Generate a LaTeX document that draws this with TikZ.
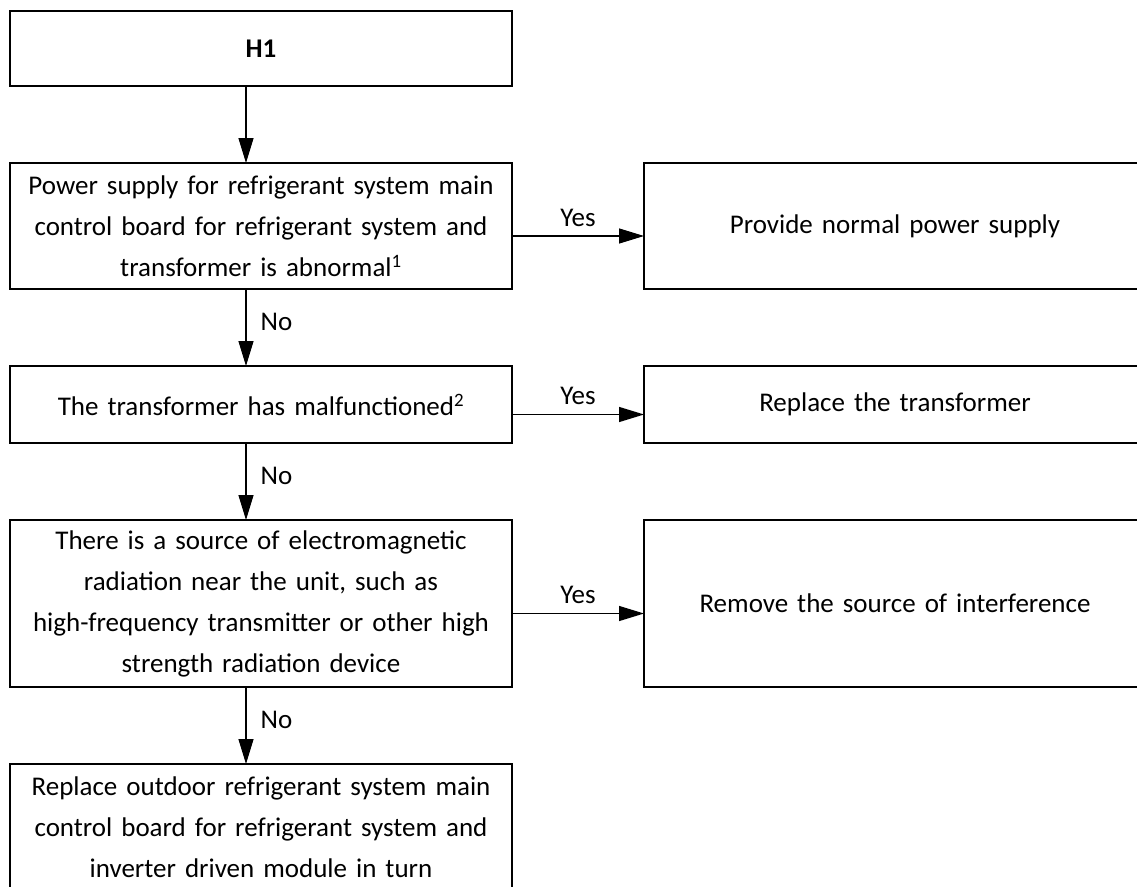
\documentclass[tikz,border=0pt]{standalone}
\usepackage{fontspec}
\setmainfont{Carlito}
\usetikzlibrary{arrows.meta,positioning}
\tikzset{
  box/.style={
    draw=black,
    line width=1.3pt,
    align=center,
    font=\fontsize{27pt}{41pt}\selectfont,
    text width=496pt,
    minimum width=502pt,
    inner sep=0pt,
    outer sep=0pt
  },
  arrow/.style={
    -{Triangle[length=25pt,width=15pt]},
    line width=1.3pt,
    draw=black
  },
  yes/.style={
    midway,
    above=9pt,
    inner sep=0pt,
    font=\fontsize{27pt}{32pt}\selectfont
  },
  no/.style={
    pos=0.43,
    right=14pt,
    inner sep=0pt,
    font=\fontsize{27pt}{32pt}\selectfont
  }
}
\begin{document}
\begin{tikzpicture}[node distance=77pt and 132pt]

\useasboundingbox (0,0) rectangle (1137pt,-886pt);

\node[box, minimum height=75pt, anchor=north west] (start) at (10pt,-11pt) {\textbf{H1}};

\node[box, minimum height=126pt, below=of start] (supply) {
  Power supply for refrigerant system main\\
  control board for refrigerant system and\\
  transformer is abnormal\textsuperscript{1}
};

\node[box, minimum height=77pt, below=of supply] (trafo) {
  The transformer has malfunctioned\textsuperscript{2}
};

\node[box, minimum height=167pt, below=of trafo] (radiation) {
  There is a source of electromagnetic\\
  radiation near the unit, such as\\
  high-frequency transmitter or other high\\
  strength radiation device
};

\node[box, minimum height=126pt, below=of radiation] (replace) {
  Replace outdoor refrigerant system main\\
  control board for refrigerant system and\\
  inverter driven module in turn
};

\node[box, minimum height=126pt, right=of supply] (power) {Provide normal power supply};
\node[box, minimum height=77pt, right=of trafo] (newtrafo) {Replace the transformer};
\node[box, minimum height=167pt, right=of radiation] (remove) {Remove the source of interference};

\draw[arrow] ([xshift=-15pt]start.south) -- ([xshift=-15pt]supply.north);
\draw[arrow] ([xshift=-15pt]supply.south) -- node[no] {No} ([xshift=-15pt]trafo.north);
\draw[arrow] ([xshift=-15pt]trafo.south) -- node[no] {No} ([xshift=-15pt]radiation.north);
\draw[arrow] ([xshift=-15pt]radiation.south) -- node[no] {No} ([xshift=-15pt]replace.north);

\draw[arrow] ([yshift=-10pt]supply.east) -- node[yes] {Yes} ([yshift=-10pt]power.west);
\draw[arrow] ([yshift=-10pt]trafo.east) -- node[yes] {Yes} ([yshift=-10pt]newtrafo.west);
\draw[arrow] ([yshift=-10pt]radiation.east) -- node[yes] {Yes} ([yshift=-10pt]remove.west);

\end{tikzpicture}
\end{document}
